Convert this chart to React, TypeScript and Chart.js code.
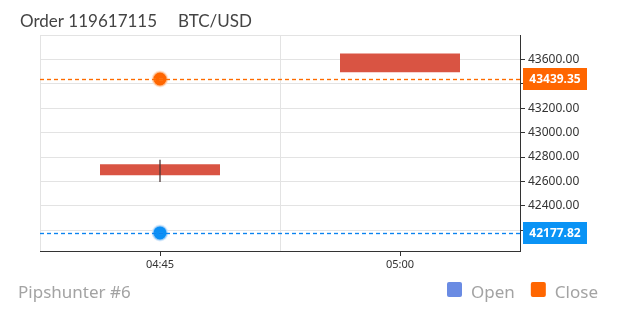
import React, { useEffect, useRef } from "react";
import { Chart, registerables } from "chart.js";

Chart.register(...registerables);

const categories = ["04:45", "05:00"];
const bodyValues: [number, number][] = [
  [42650, 42740],
  [43494, 43649],
];
const wickValues: ([number, number] | null)[] = [[42598, 42775], null];
const openPoint = [42177.82, null];
const closePoint = [43439.35, null];
const openPrice = 42177.82;
const closePrice = 43439.35;
const yMin = 42030;
const yMax = 43800;
const yTicks = [42200, 42400, 42600, 42800, 43000, 43200, 43400, 43600, 43800];
const titleText = "Order 119617115";
const symbolText = "BTC/USD";
const footerText = "Pipshunter #6";
const legendLabels = ["Open", "Close"];
const legendColors = ["#6a8be3", "#ff6600"];

const FONT = "'Noto Sans', 'Open Sans', sans-serif";
const FONT2 = "Lato, 'Noto Sans', sans-serif";

const overlay = {
  id: "overlay",
  afterDraw(chart: any) {
    const ctx = chart.ctx;
    const y = chart.scales.y;
    const x = chart.scales.x;
    const area = chart.chartArea;
    ctx.save();
    ctx.fillStyle = "#333";
    for (let i = 0; i < categories.length; i++) {
      const px = Math.round(x.getPixelForTick(i));
      ctx.fillRect(px, area.bottom, 1, 5);
    }
    const lines = [
      { v: closePrice, c: "#ff6a00", halo: "rgba(255,150,60,0.25)", box: "#ff6600" },
      { v: openPrice, c: "#0a84f0", halo: "rgba(60,150,240,0.22)", box: "#0a93f5" },
    ];
    for (const l of lines) {
      const py = Math.round(y.getPixelForValue(l.v));
      for (let dx = area.left; dx < area.right; dx += 7) {
        const w = Math.min(4, area.right - dx);
        ctx.fillStyle = l.halo;
        ctx.fillRect(dx, py - 1, w, 3);
        ctx.fillStyle = l.c;
        ctx.fillRect(dx, py, w, 1);
      }
      ctx.fillStyle = l.box;
      ctx.fillRect(area.right + 3, py - 11, 64, 22);
      ctx.fillStyle = "#fff";
      ctx.font = `bold 12px ${FONT}`;
      ctx.textAlign = "center";
      ctx.textBaseline = "middle";
      ctx.fillText(l.v.toFixed(2), area.right + 35, py + 1);
    }
    ctx.textAlign = "left";
    ctx.textBaseline = "alphabetic";
    ctx.fillStyle = "#444";
    ctx.font = `17px ${FONT2}`;
    ctx.fillText(titleText, 20, 27);
    ctx.fillText(symbolText, 178, 27);
    ctx.fillStyle = "#a3a3a3";
    ctx.font = `17px ${FONT}`;
    ctx.fillText(footerText, 18, 298);
    let lx = 447;
    for (let i = 0; i < legendLabels.length; i++) {
      ctx.fillStyle = legendColors[i];
      ctx.beginPath();
      (ctx as any).roundRect(lx, 282, 15, 15, 2);
      ctx.fill();
      ctx.fillStyle = "#a3a3a3";
      ctx.font = `17px ${FONT}`;
      ctx.fillText(legendLabels[i], lx + 24, 298);
      lx += 24 + ctx.measureText(legendLabels[i]).width + 16;
    }
    ctx.restore();
  },
};

export default function App() {
  const ref = useRef<HTMLCanvasElement>(null);
  useEffect(() => {
    document.body.style.margin = "0";
    const chart = new Chart(ref.current!, {
      data: {
        labels: categories,
        datasets: [
          {
            type: "line",
            label: "Close",
            data: closePoint as any,
            showLine: false,
            pointRadius: 7.5,
            pointBorderWidth: 2,
            pointBackgroundColor: "#ff6600",
            pointBorderColor: "rgba(255,225,200,0.7)",
            order: 0,
          },
          {
            type: "line",
            label: "Open",
            data: openPoint as any,
            showLine: false,
            pointRadius: 7.5,
            pointBorderWidth: 2,
            pointBackgroundColor: "#0a8ff5",
            pointBorderColor: "rgba(210,230,250,0.7)",
            order: 0,
          },
          {
            type: "bar",
            label: "wick",
            data: wickValues as any,
            backgroundColor: "rgba(70,50,50,0.75)",
            barThickness: 1,
            grouped: false,
            order: 1,
          },
          {
            type: "bar",
            label: "body",
            data: bodyValues as any,
            backgroundColor: "#d95443",
            categoryPercentage: 1,
            barPercentage: 0.5,
            grouped: false,
            order: 2,
          },
        ],
      },
      options: {
        animation: false,
        responsive: false,
        maintainAspectRatio: false,
        layout: { padding: { left: 40, top: 35, right: 0, bottom: 29 } },
        plugins: {
          legend: { display: false },
          title: { display: false },
          tooltip: { enabled: false },
        },
        scales: {
          x: {
            type: "category",
            offset: true,
            grid: {
              offset: true,
              color: "#e3e3e3",
              drawTicks: false,
            },
            border: { color: "#333" },
            ticks: {
              padding: 7,
              color: "#333",
              font: { family: FONT, size: 11 },
            },
            afterFit(s: any) {
              s.height = 30;
            },
          },
          y: {
            type: "linear",
            position: "right",
            min: yMin,
            max: yMax,
            afterBuildTicks(s: any) {
              s.ticks = yTicks.map((v) => ({ value: v }));
            },
            grid: {
              color: "#e3e3e3",
              tickLength: 5,
              tickColor: (c: any) =>
                c.tick && c.tick.value === yMax ? "rgba(0,0,0,0)" : "#333",
            },
            border: { color: "#333" },
            ticks: {
              padding: 3,
              color: "#333",
              font: { family: FONT, size: 12 },
              callback: (v: any) => (Number(v) === yMax ? "" : Number(v).toFixed(2)),
            },
            afterFit(s: any) {
              s.width = 100;
            },
          },
        },
      } as any,
      plugins: [overlay],
    });
    return () => chart.destroy();
  }, []);
  return <canvas ref={ref} width={620} height={310} style={{ display: "block" }} />;
}
